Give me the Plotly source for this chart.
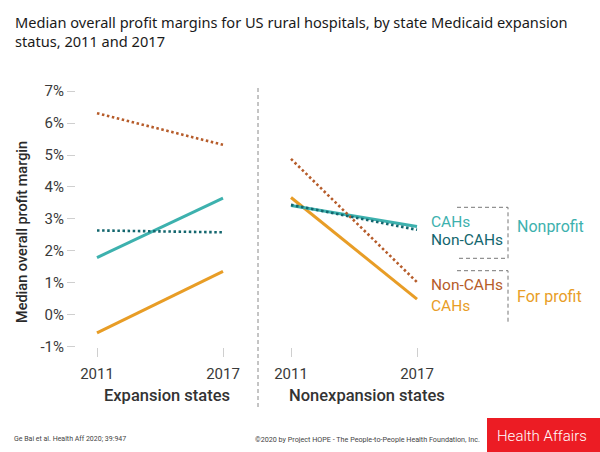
import plotly.graph_objects as go

# ---- data (median overall profit margin, %) ----
years = [2011, 2017]
exp_np_cah = [1.79, 3.65]
exp_np_noncah = [2.64, 2.58]
exp_fp_cah = [-0.57, 1.36]
exp_fp_noncah = [6.31, 5.32]
nonexp_np_cah = [3.42, 2.76]
nonexp_np_noncah = [3.44, 2.66]
nonexp_fp_cah = [3.67, 0.49]
nonexp_fp_noncah = [4.88, 1.02]

y_tick_vals = [-1, 0, 1, 2, 3, 4, 5, 6, 7]
y_tick_text = ["-1%", "0%", "1%", "2%", "3%", "4%", "5%", "6%", "7%"]
x_tick_vals = [2011, 2017]
x_tick_text = ["2011", "2017"]

TEAL = "#3DB1AE"
DTEAL = "#13666E"
BROWN = "#B65C2A"
ORANGE = "#E89D26"
DOT = "2.5px,2.6px"

W, H = 600, 452
T, B = 80, 105
PH = H - T - B


def py(p):
    """pixel y -> paper y"""
    return (H - B - p) / PH


fig = go.Figure()

panels = [
    ("x", exp_np_cah, exp_np_noncah, exp_fp_cah, exp_fp_noncah),
    ("x2", nonexp_np_cah, nonexp_np_noncah, nonexp_fp_cah, nonexp_fp_noncah),
]
for xa, np_cah, np_non, fp_cah, fp_non in panels:
    fig.add_trace(go.Scatter(x=years, y=fp_cah, xaxis=xa, yaxis="y", mode="lines",
                             line=dict(color=ORANGE, width=3), showlegend=False, hoverinfo="skip"))
    fig.add_trace(go.Scatter(x=years, y=np_cah, xaxis=xa, yaxis="y", mode="lines",
                             line=dict(color=TEAL, width=3), showlegend=False, hoverinfo="skip"))
    fig.add_trace(go.Scatter(x=years, y=fp_non, xaxis=xa, yaxis="y", mode="lines",
                             line=dict(color=BROWN, width=2.6, dash=DOT), showlegend=False, hoverinfo="skip"))
    fig.add_trace(go.Scatter(x=years, y=np_non, xaxis=xa, yaxis="y", mode="lines",
                             line=dict(color=DTEAL, width=2.6, dash=DOT), showlegend=False, hoverinfo="skip"))

axis_font = dict(family="Roboto", size=15, color="#3a3a3a")
xcommon = dict(range=[2010, 2018], tickvals=x_tick_vals, ticktext=x_tick_text,
               ticks="outside", ticklen=9, tickcolor="#cfcfcf", tickwidth=1,
               showgrid=False, zeroline=False, showline=False, tickfont=axis_font,
               ticklabelstandoff=4, fixedrange=True)

fig.update_layout(
    width=W, height=H,
    margin=dict(l=0, r=0, t=T, b=B),
    paper_bgcolor="white", plot_bgcolor="white",
    xaxis=dict(domain=[76 / W, 244 / W], anchor="y", **xcommon),
    xaxis2=dict(domain=[270 / W, 438 / W], anchor="y", **xcommon),
    yaxis=dict(domain=[0, 1], anchor="x", range=[-1.01, 7.35],
               tickvals=y_tick_vals, ticktext=y_tick_text,
               ticks="outside", ticklen=8, tickcolor="#cfcfcf", tickwidth=1,
               showgrid=False, zeroline=False, showline=False,
               tickfont=axis_font, ticklabelstandoff=0, fixedrange=True),
    showlegend=False,
)

ann = []
# title
ann.append(dict(text="Median overall profit margins for US rural hospitals, by state Medicaid expansion<br>status, 2011 and 2017",
                x=13 / W, y=py(10), xref="paper", yref="paper", showarrow=False,
                xanchor="left", yanchor="top", align="left",
                font=dict(family="Noto Sans", size=14.6, color="#1a1a1a")))
# y-axis title
ann.append(dict(text="Median overall profit margin", x=22 / W, y=py(232), xref="paper", yref="paper",
                textangle=-90, showarrow=False, xanchor="center", yanchor="middle",
                font=dict(family="Roboto", size=14.5, color="#2a2a2a", weight=500)))
# panel titles
ann.append(dict(text="Expansion states", x=167 / W, y=py(395), xref="paper", yref="paper",
                showarrow=False, xanchor="center", yanchor="middle",
                font=dict(family="Roboto", size=16.5, color="#333333", weight=500)))
ann.append(dict(text="Nonexpansion states", x=367 / W, y=py(395), xref="paper", yref="paper",
                showarrow=False, xanchor="center", yanchor="middle",
                font=dict(family="Roboto", size=16.5, color="#333333", weight=500)))
# series labels (right panel)
lab_font = lambda c: dict(family="Roboto", size=15.5, color=c)
for txt, yv, col in [("CAHs", 2.9, TEAL), ("Non-CAHs", 2.33, DTEAL),
                     ("Non-CAHs", 0.93, BROWN), ("CAHs", 0.26, ORANGE)]:
    ann.append(dict(text=txt, x=2017, xref="x2", y=yv, yref="y", xshift=12,
                    showarrow=False, xanchor="left", yanchor="middle", font=lab_font(col)))
for txt, yv, col in [("Nonprofit", 2.77, TEAL), ("For profit", 0.56, ORANGE)]:
    ann.append(dict(text=txt, x=515 / W, xref="paper", y=yv, yref="y",
                    showarrow=False, xanchor="left", yanchor="middle",
                    font=dict(family="Roboto", size=16, color=col)))
# footer
ann.append(dict(text="Ge Bai et al. Health Aff 2020; 39:947", x=12 / W, y=py(439), xref="paper", yref="paper",
                showarrow=False, xanchor="left", yanchor="middle",
                font=dict(family="Roboto", size=7.0, color="#444444")))
ann.append(dict(text="©2020 by Project HOPE - The People-to-People Health Foundation, Inc.", x=482 / W, y=py(439),
                xref="paper", yref="paper", showarrow=False, xanchor="right", yanchor="middle",
                font=dict(family="Roboto", size=7.2, color="#444444")))
ann.append(dict(text="Health Affairs", x=541.5 / W, y=py(435.5), xref="paper", yref="paper",
                showarrow=False, xanchor="center", yanchor="middle",
                font=dict(family="Roboto", size=15, color="white", weight=300)))
fig.update_layout(annotations=ann)

shapes = []
# divider
shapes.append(dict(type="line", xref="paper", yref="paper", x0=258 / W, x1=258 / W, y0=py(88), y1=py(410),
                   line=dict(color="#8a8a8a", width=1, dash="4px,3px")))


def px_path(pts):
    return "M " + " L ".join(f"{x / W:.5f},{py(y):.5f}" for x, y in pts)


# brackets
shapes.append(dict(type="path", xref="paper", yref="paper",
                   path=px_path([(457, 207.3), (508, 207.3), (508, 258.3), (457, 258.3)]),
                   line=dict(color="#777777", width=1, dash="4px,3px")))
shapes.append(dict(type="path", xref="paper", yref="paper",
                   path=px_path([(457, 270.7), (508, 270.7), (508, 321.7)]),
                   line=dict(color="#777777", width=1, dash="4px,3px")))
# Health Affairs red box
shapes.append(dict(type="rect", xref="paper", yref="paper", x0=487 / W, x1=1.0, y0=py(452), y1=py(418),
                   fillcolor="#EC1C24", line=dict(width=0), layer="below"))
fig.update_layout(shapes=shapes)

fig.write_html("out.html", config={"displayModeBar": False},
               post_script="document.body.style.margin='0';document.body.style.overflow='hidden';")
